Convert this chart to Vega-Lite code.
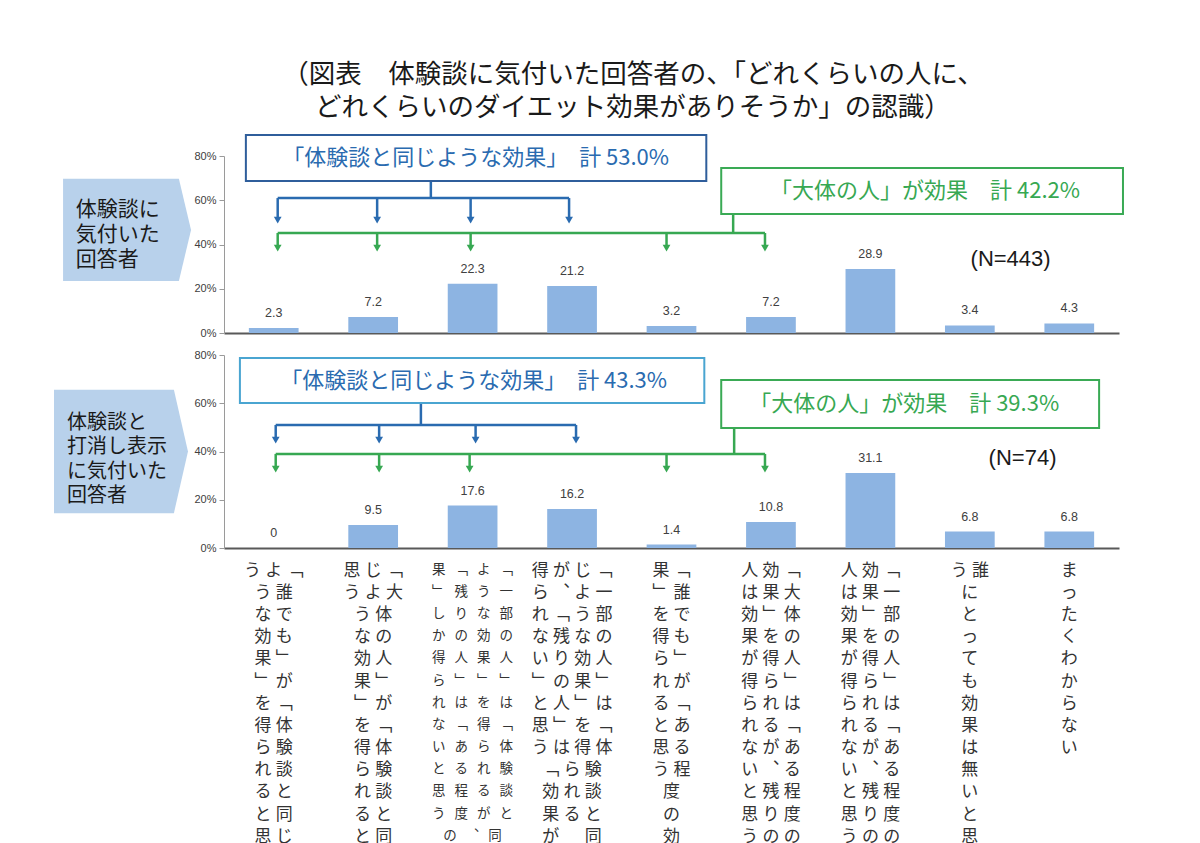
{
  "$schema": "https://vega.github.io/schema/vega-lite/v6.json",
  "padding": {"left": 53, "top": 62, "right": 5, "bottom": 5},
  "title": {
    "text": ["（図表　体験談に気付いた回答者の、「どれくらいの人に、", "どれくらいのダイエット効果がありそうか」の認識）"],
    "font": "Noto Sans CJK JP",
    "fontSize": 26.5,
    "fontWeight": "normal",
    "color": "#1a1a1a",
    "lineHeight": 33,
    "anchor": "middle",
    "dx": 44,
    "offset": 12
  },
  "datasets": {
    "labels": [
      {"cat": 1, "label": "う\u2005よ\u2005﹁\n\u3000\u2005う\u2005誰\n\u3000\u2005な\u2005で\n\u3000\u2005効\u2005も\n\u3000\u2005果\u2005﹂\n\u3000\u2005﹂\u2005が\n\u3000\u2005を\u2005﹁\n\u3000\u2005得\u2005体\n\u3000\u2005ら\u2005験\n\u3000\u2005れ\u2005談\n\u3000\u2005る\u2005と\n\u3000\u2005と\u2005同\n\u3000\u2005思\u2005じ"},
      {"cat": 2, "label": "思\u2005じ\u2005﹁\nう\u2005よ\u2005大\n\u3000\u2005う\u2005体\n\u3000\u2005な\u2005の\n\u3000\u2005効\u2005人\n\u3000\u2005果\u2005﹂\n\u3000\u2005﹂\u2005が\n\u3000\u2005を\u2005﹁\n\u3000\u2005得\u2005体\n\u3000\u2005ら\u2005験\n\u3000\u2005れ\u2005談\n\u3000\u2005る\u2005と\n\u3000\u2005と\u2005同"},
      {"cat": 3, "label": "果\u2004\u2004﹁\u2004\u2004よ\u2004\u2004﹁\n﹂\u2004\u2004残\u2004\u2004う\u2004\u2004一\nし\u2004\u2004り\u2004\u2004な\u2004\u2004部\nか\u2004\u2004の\u2004\u2004効\u2004\u2004の\n得\u2004\u2004人\u2004\u2004果\u2004\u2004人\nら\u2004\u2004﹂\u2004\u2004﹂\u2004\u2004﹂\nれ\u2004\u2004は\u2004\u2004を\u2004\u2004は\nな\u2004\u2004﹁\u2004\u2004得\u2004\u2004﹁\nい\u2004\u2004あ\u2004\u2004ら\u2004\u2004体\nと\u2004\u2004る\u2004\u2004れ\u2004\u2004験\n思\u2004\u2004程\u2004\u2004る\u2004\u2004談\nう\u2004\u2004度\u2004\u2004が\u2004\u2004と\n\u3000\u2004\u2004の\u2004\u2004︑\u2004\u2004同\n\u3000\u2004\u2004効\u2004\u2004\u3000\u2004\u2004じ"},
      {"cat": 4, "label": "得\u2005が\u2005じ\u2005﹁\nら\u2005︑\u2005よ\u2005一\nれ\u2005﹁\u2005う\u2005部\nな\u2005残\u2005な\u2005の\nい\u2005り\u2005効\u2005人\n﹂\u2005の\u2005果\u2005﹂\nと\u2005人\u2005﹂\u2005は\n思\u2005﹂\u2005を\u2005﹁\nう\u2005は\u2005得\u2005体\n\u3000\u2005﹁\u2005ら\u2005験\n\u3000\u2005効\u2005れ\u2005談\n\u3000\u2005果\u2005る\u2005と\n\u3000\u2005が\u2005\u3000\u2005同"},
      {"cat": 5, "label": "果\u2005﹁\n﹂\u2005誰\nを\u2005で\n得\u2005も\nら\u2005﹂\nれ\u2005が\nる\u2005﹁\nと\u2005あ\n思\u2005る\nう\u2005程\n\u3000\u2005度\n\u3000\u2005の\n\u3000\u2005効"},
      {"cat": 6, "label": "人\u2005効\u2005﹁\nは\u2005果\u2005大\n効\u2005﹂\u2005体\n果\u2005を\u2005の\nが\u2005得\u2005人\n得\u2005ら\u2005﹂\nら\u2005れ\u2005は\nれ\u2005る\u2005﹁\nな\u2005が\u2005あ\nい\u2005︑\u2005る\nと\u2005残\u2005程\n思\u2005り\u2005度\nう\u2005の\u2005の"},
      {"cat": 7, "label": "人\u2005効\u2005﹁\nは\u2005果\u2005一\n効\u2005﹂\u2005部\n果\u2005を\u2005の\nが\u2005得\u2005人\n得\u2005ら\u2005﹂\nら\u2005れ\u2005は\nれ\u2005る\u2005﹁\nな\u2005が\u2005あ\nい\u2005︑\u2005る\nと\u2005残\u2005程\n思\u2005り\u2005度\nう\u2005の\u2005の"},
      {"cat": 8, "label": "う\u2005誰\n\u3000\u2005に\n\u3000\u2005と\n\u3000\u2005っ\n\u3000\u2005て\n\u3000\u2005も\n\u3000\u2005効\n\u3000\u2005果\n\u3000\u2005は\n\u3000\u2005無\n\u3000\u2005い\n\u3000\u2005と\n\u3000\u2005思"},
      {"cat": 9, "label": "ま\nっ\nた\nく\nわ\nか\nら\nな\nい"}
    ],
    "bars": [
      {"panel": "top", "cat": 1, "value": 2.3},
      {"panel": "top", "cat": 2, "value": 7.2},
      {"panel": "top", "cat": 3, "value": 22.3},
      {"panel": "top", "cat": 4, "value": 21.2},
      {"panel": "top", "cat": 5, "value": 3.2},
      {"panel": "top", "cat": 6, "value": 7.2},
      {"panel": "top", "cat": 7, "value": 28.9},
      {"panel": "top", "cat": 8, "value": 3.4},
      {"panel": "top", "cat": 9, "value": 4.3},
      {"panel": "bottom", "cat": 1, "value": 0},
      {"panel": "bottom", "cat": 2, "value": 9.5},
      {"panel": "bottom", "cat": 3, "value": 17.6},
      {"panel": "bottom", "cat": 4, "value": 16.2},
      {"panel": "bottom", "cat": 5, "value": 1.4},
      {"panel": "bottom", "cat": 6, "value": 10.8},
      {"panel": "bottom", "cat": 7, "value": 31.1},
      {"panel": "bottom", "cat": 8, "value": 6.8},
      {"panel": "bottom", "cat": 9, "value": 6.8}
    ],
    "boxes": [
      {"panel": "top", "grp": "same", "x": 0.22, "x2": 4.85, "y": 89.5, "y2": 68.7, "tx": 2.53, "ty": 79.0, "text": "「体験談と同じような効果」　計 53.0%"},
      {"panel": "top", "grp": "most", "x": 5.0, "x2": 9.04, "y": 74.6, "y2": 53.8, "tx": 7.05, "ty": 64.2, "text": "「大体の人」が効果　計 42.2%"},
      {"panel": "bottom", "grp": "same", "x": 0.16, "x2": 4.83, "y": 78.8, "y2": 60.1, "tx": 2.51, "ty": 69.2, "text": "「体験談と同じような効果」　計 43.3%"},
      {"panel": "bottom", "grp": "most", "x": 5.0, "x2": 8.8, "y": 69.6, "y2": 49.7, "tx": 6.84, "ty": 59.7, "text": "「大体の人」が効果　計 39.3%"}
    ],
    "segs": [
      {"panel": "top", "grp": "same", "kind": "stem", "x": 2.08, "y": 68.7, "x2": 2.08, "y2": 61.0},
      {"panel": "top", "grp": "same", "kind": "bar", "x": 0.54, "y": 61.0, "x2": 3.47, "y2": 61.0},
      {"panel": "top", "grp": "same", "kind": "arrow", "x": 0.54, "y": 61.0, "x2": 0.54, "y2": 51.0},
      {"panel": "top", "grp": "same", "kind": "arrow", "x": 1.54, "y": 61.0, "x2": 1.54, "y2": 51.0},
      {"panel": "top", "grp": "same", "kind": "arrow", "x": 2.48, "y": 61.0, "x2": 2.48, "y2": 51.0},
      {"panel": "top", "grp": "same", "kind": "arrow", "x": 3.47, "y": 61.0, "x2": 3.47, "y2": 51.0},
      {"panel": "top", "grp": "most", "kind": "stem", "x": 5.12, "y": 53.8, "x2": 5.12, "y2": 45.2},
      {"panel": "top", "grp": "most", "kind": "bar", "x": 0.54, "y": 45.2, "x2": 5.44, "y2": 45.2},
      {"panel": "top", "grp": "most", "kind": "arrow", "x": 0.54, "y": 45.2, "x2": 0.54, "y2": 38.4},
      {"panel": "top", "grp": "most", "kind": "arrow", "x": 1.54, "y": 45.2, "x2": 1.54, "y2": 38.4},
      {"panel": "top", "grp": "most", "kind": "arrow", "x": 2.48, "y": 45.2, "x2": 2.48, "y2": 38.4},
      {"panel": "top", "grp": "most", "kind": "arrow", "x": 4.45, "y": 45.2, "x2": 4.45, "y2": 38.4},
      {"panel": "top", "grp": "most", "kind": "arrow", "x": 5.44, "y": 45.2, "x2": 5.44, "y2": 38.4},
      {"panel": "bottom", "grp": "same", "kind": "stem", "x": 1.98, "y": 60.1, "x2": 1.98, "y2": 51.0},
      {"panel": "bottom", "grp": "same", "kind": "bar", "x": 0.52, "y": 51.0, "x2": 3.54, "y2": 51.0},
      {"panel": "bottom", "grp": "same", "kind": "arrow", "x": 0.52, "y": 51.0, "x2": 0.52, "y2": 44.7},
      {"panel": "bottom", "grp": "same", "kind": "arrow", "x": 1.56, "y": 51.0, "x2": 1.56, "y2": 44.7},
      {"panel": "bottom", "grp": "same", "kind": "arrow", "x": 2.53, "y": 51.0, "x2": 2.53, "y2": 44.7},
      {"panel": "bottom", "grp": "same", "kind": "arrow", "x": 3.54, "y": 51.0, "x2": 3.54, "y2": 44.7},
      {"panel": "bottom", "grp": "most", "kind": "stem", "x": 5.13, "y": 49.7, "x2": 5.13, "y2": 39.0},
      {"panel": "bottom", "grp": "most", "kind": "bar", "x": 0.52, "y": 39.0, "x2": 5.44, "y2": 39.0},
      {"panel": "bottom", "grp": "most", "kind": "arrow", "x": 0.52, "y": 39.0, "x2": 0.52, "y2": 32.7},
      {"panel": "bottom", "grp": "most", "kind": "arrow", "x": 1.56, "y": 39.0, "x2": 1.56, "y2": 32.7},
      {"panel": "bottom", "grp": "most", "kind": "arrow", "x": 2.47, "y": 39.0, "x2": 2.47, "y2": 32.7},
      {"panel": "bottom", "grp": "most", "kind": "arrow", "x": 4.45, "y": 39.0, "x2": 4.45, "y2": 32.7},
      {"panel": "bottom", "grp": "most", "kind": "arrow", "x": 5.44, "y": 39.0, "x2": 5.44, "y2": 32.7}
    ],
    "notes": [
      {"panel": "top", "x": 7.91, "y": 33.4, "text": "(N=443)"},
      {"panel": "bottom", "x": 8.03, "y": 37.3, "text": "(N=74)"}
    ],
    "tags": [
      {"panel": "top", "x": -0.975, "y": 46.6, "tx": -1.49, "text": "体験談に\n気付いた\n回答者"},
      {"panel": "bottom", "x": -1.036, "y": 40.0, "tx": -1.579, "text": "体験談と\n打消し表示\nに気付いた\n回答者"}
    ]
  },
  "vconcat": [
    {
      "width": 895,
      "height": 177,
      "resolve": {"scale": {"x": "independent"}},
      "layer": [
        {
          "data": {"name": "bars"},
          "transform": [
            {"filter": "datum.panel == 'top'"},
            {"lookup": "cat", "from": {"data": {"name": "labels"}, "key": "cat", "fields": ["label"]}}
          ],
          "encoding": {
            "x": {
              "field": "label", "type": "nominal", "sort": null,
              "scale": {"paddingInner": 0.5, "paddingOuter": 0.25},
              "axis": {"title": null, "labels": false, "ticks": false, "domainColor": "#595959", "domainWidth": 2}
            },
            "y": {
              "field": "value", "type": "quantitative",
              "scale": {"domain": [0, 80], "nice": false},
              "axis": {"title": null, "values": [0, 20, 40, 60, 80], "labelExpr": "datum.value + '%'"}
            }
          },
          "layer": [
            {"mark": {"type": "bar", "color": "#8DB4E2"}},
            {
              "mark": {"type": "text", "baseline": "bottom", "dy": -8, "font": "Liberation Sans", "fontSize": 12.5, "color": "#404040"},
              "encoding": {"text": {"field": "value", "type": "quantitative", "format": ".1~f"}}
            }
          ]
        },
        {
          "layer": [
            {
              "data": {"name": "tags"},
              "transform": [{"filter": "datum.panel == 'top'"}],
              "mark": {"type": "point", "shape": "M-1,-0.8L0.81,-0.8L1,0L0.81,0.8L-1,0.8Z", "size": 16384, "filled": true, "color": "#B8D1EB", "opacity": 1},
              "encoding": {
                "x": {"field": "x", "type": "quantitative", "scale": {"domain": [0, 9], "nice": false, "zero": false}, "axis": null},
                "y": {"field": "y", "type": "quantitative", "scale": {"domain": [0, 80], "nice": false}, "axis": {"title": null, "values": [0, 20, 40, 60, 80], "labelExpr": "datum.value + '%'"}}
              }
            },
            {
              "data": {"name": "tags"},
              "transform": [{"filter": "datum.panel == 'top'"}],
              "mark": {"type": "text", "align": "left", "baseline": "middle", "lineBreak": "\n", "font": "Noto Sans CJK JP", "fontSize": 21, "lineHeight": 25, "dy": -20, "color": "#1a1a1a"},
              "encoding": {
                "x": {"field": "tx", "type": "quantitative", "scale": {"domain": [0, 9], "nice": false, "zero": false}, "axis": null},
                "y": {"field": "y", "type": "quantitative", "scale": {"domain": [0, 80], "nice": false}, "axis": {"title": null, "values": [0, 20, 40, 60, 80], "labelExpr": "datum.value + '%'"}},
                "text": {"field": "text"}
              }
            },
            {
              "data": {"name": "segs"},
              "transform": [{"filter": "datum.panel == 'top'"}],
              "mark": {"type": "rule", "strokeWidth": 2.5},
              "encoding": {
                "x": {"field": "x", "type": "quantitative", "scale": {"domain": [0, 9], "nice": false, "zero": false}, "axis": null},
                "x2": {"field": "x2"},
                "y": {"field": "y", "type": "quantitative", "scale": {"domain": [0, 80], "nice": false}, "axis": {"title": null, "values": [0, 20, 40, 60, 80], "labelExpr": "datum.value + '%'"}},
                "y2": {"field": "y2"},
                "color": {"field": "grp", "type": "nominal", "scale": {"domain": ["same", "most"], "range": ["#2A6BB0", "#37A852"]}, "legend": null}
              }
            },
            {
              "data": {"name": "segs"},
              "transform": [{"filter": "datum.panel == 'top' && datum.kind == 'arrow'"}],
              "mark": {"type": "point", "shape": "triangle-down", "size": 60, "filled": true, "opacity": 1},
              "encoding": {
                "x": {"field": "x2", "type": "quantitative", "scale": {"domain": [0, 9], "nice": false, "zero": false}, "axis": null},
                "y": {"field": "y2", "type": "quantitative", "scale": {"domain": [0, 80], "nice": false}, "axis": {"title": null, "values": [0, 20, 40, 60, 80], "labelExpr": "datum.value + '%'"}},
                "color": {"field": "grp", "type": "nominal", "scale": {"domain": ["same", "most"], "range": ["#2A6BB0", "#37A852"]}, "legend": null}
              }
            },
            {
              "data": {"name": "boxes"},
              "transform": [{"filter": "datum.panel == 'top'"}],
              "mark": {"type": "rect", "fill": "#ffffff", "strokeWidth": 2},
              "encoding": {
                "x": {"field": "x", "type": "quantitative", "scale": {"domain": [0, 9], "nice": false, "zero": false}, "axis": null},
                "x2": {"field": "x2"},
                "y": {"field": "y", "type": "quantitative", "scale": {"domain": [0, 80], "nice": false}, "axis": {"title": null, "values": [0, 20, 40, 60, 80], "labelExpr": "datum.value + '%'"}},
                "y2": {"field": "y2"},
                "stroke": {"field": "grp", "type": "nominal", "scale": {"domain": ["same", "most"], "range": ["#2F5E9B", "#3AAA55"]}, "legend": null}
              }
            },
            {
              "data": {"name": "boxes"},
              "transform": [{"filter": "datum.panel == 'top'"}],
              "mark": {"type": "text", "font": "Noto Sans CJK JP", "fontSize": 22, "baseline": "middle"},
              "encoding": {
                "x": {"field": "tx", "type": "quantitative", "scale": {"domain": [0, 9], "nice": false, "zero": false}, "axis": null},
                "y": {"field": "ty", "type": "quantitative", "scale": {"domain": [0, 80], "nice": false}, "axis": {"title": null, "values": [0, 20, 40, 60, 80], "labelExpr": "datum.value + '%'"}},
                "text": {"field": "text"},
                "color": {"field": "grp", "type": "nominal", "scale": {"domain": ["same", "most"], "range": ["#2A6BB0", "#37A852"]}, "legend": null}
              }
            },
            {
              "data": {"name": "notes"},
              "transform": [{"filter": "datum.panel == 'top'"}],
              "mark": {"type": "text", "font": "Liberation Sans", "fontSize": 22, "baseline": "middle", "color": "#1a1a1a"},
              "encoding": {
                "x": {"field": "x", "type": "quantitative", "scale": {"domain": [0, 9], "nice": false, "zero": false}, "axis": null},
                "y": {"field": "y", "type": "quantitative", "scale": {"domain": [0, 80], "nice": false}, "axis": {"title": null, "values": [0, 20, 40, 60, 80], "labelExpr": "datum.value + '%'"}},
                "text": {"field": "text"}
              }
            }
          ]
        }
      ]
    },
    {
      "width": 895,
      "height": 193,
      "resolve": {"scale": {"x": "independent"}},
      "layer": [
        {
          "data": {"name": "bars"},
          "transform": [
            {"filter": "datum.panel == 'bottom'"},
            {"lookup": "cat", "from": {"data": {"name": "labels"}, "key": "cat", "fields": ["label"]}}
          ],
          "encoding": {
            "x": {
              "field": "label", "type": "nominal", "sort": null,
              "scale": {"paddingInner": 0.5, "paddingOuter": 0.25},
              "axis": {
                "title": null, "ticks": false, "domainColor": "#595959", "domainWidth": 2,
                "labelAngle": 0, "labelAlign": "center", "labelBaseline": "top", "labelPadding": 14,
                "labelExpr": "split(datum.value, '\\n')",
                "labelFont": "Noto Sans CJK JP",
                "labelFontSize": {"condition": {"test": "indexof(datum.value, '程') >= 0 && indexof(datum.value, '験') >= 0", "value": 13.5}, "value": 17},
                "labelLineHeight": 22.2,
                "labelColor": "#333333", "labelOverlap": false, "labelLimit": 0,
                "encoding": {"labels": {"update": {"lineHeight": {"signal": "indexof(datum.value, '程') >= 0 && indexof(datum.value, '験') >= 0 ? 20.4 : 22.2"}}}}
              }
            },
            "y": {
              "field": "value", "type": "quantitative",
              "scale": {"domain": [0, 80], "nice": false},
              "axis": {"title": null, "values": [0, 20, 40, 60, 80], "labelExpr": "datum.value + '%'"}
            }
          },
          "layer": [
            {"mark": {"type": "bar", "color": "#8DB4E2"}},
            {
              "mark": {"type": "text", "baseline": "bottom", "dy": -8, "font": "Liberation Sans", "fontSize": 12.5, "color": "#404040"},
              "encoding": {"text": {"field": "value", "type": "quantitative", "format": ".1~f"}}
            }
          ]
        },
        {
          "layer": [
            {
              "data": {"name": "tags"},
              "transform": [{"filter": "datum.panel == 'bottom'"}],
              "mark": {"type": "point", "shape": "M-1,-0.92L0.79,-0.92L1,0L0.79,0.92L-1,0.92Z", "size": 17956, "filled": true, "color": "#B8D1EB", "opacity": 1},
              "encoding": {
                "x": {"field": "x", "type": "quantitative", "scale": {"domain": [0, 9], "nice": false, "zero": false}, "axis": null},
                "y": {"field": "y", "type": "quantitative", "scale": {"domain": [0, 80], "nice": false}, "axis": {"title": null, "values": [0, 20, 40, 60, 80], "labelExpr": "datum.value + '%'"}}
              }
            },
            {
              "data": {"name": "tags"},
              "transform": [{"filter": "datum.panel == 'bottom'"}],
              "mark": {"type": "text", "align": "left", "baseline": "middle", "lineBreak": "\n", "font": "Noto Sans CJK JP", "fontSize": 20, "lineHeight": 24.5, "dy": -29, "color": "#1a1a1a"},
              "encoding": {
                "x": {"field": "tx", "type": "quantitative", "scale": {"domain": [0, 9], "nice": false, "zero": false}, "axis": null},
                "y": {"field": "y", "type": "quantitative", "scale": {"domain": [0, 80], "nice": false}, "axis": {"title": null, "values": [0, 20, 40, 60, 80], "labelExpr": "datum.value + '%'"}},
                "text": {"field": "text"}
              }
            },
            {
              "data": {"name": "segs"},
              "transform": [{"filter": "datum.panel == 'bottom'"}],
              "mark": {"type": "rule", "strokeWidth": 2.5},
              "encoding": {
                "x": {"field": "x", "type": "quantitative", "scale": {"domain": [0, 9], "nice": false, "zero": false}, "axis": null},
                "x2": {"field": "x2"},
                "y": {"field": "y", "type": "quantitative", "scale": {"domain": [0, 80], "nice": false}, "axis": {"title": null, "values": [0, 20, 40, 60, 80], "labelExpr": "datum.value + '%'"}},
                "y2": {"field": "y2"},
                "color": {"field": "grp", "type": "nominal", "scale": {"domain": ["same", "most"], "range": ["#2A6BB0", "#37A852"]}, "legend": null}
              }
            },
            {
              "data": {"name": "segs"},
              "transform": [{"filter": "datum.panel == 'bottom' && datum.kind == 'arrow'"}],
              "mark": {"type": "point", "shape": "triangle-down", "size": 60, "filled": true, "opacity": 1},
              "encoding": {
                "x": {"field": "x2", "type": "quantitative", "scale": {"domain": [0, 9], "nice": false, "zero": false}, "axis": null},
                "y": {"field": "y2", "type": "quantitative", "scale": {"domain": [0, 80], "nice": false}, "axis": {"title": null, "values": [0, 20, 40, 60, 80], "labelExpr": "datum.value + '%'"}},
                "color": {"field": "grp", "type": "nominal", "scale": {"domain": ["same", "most"], "range": ["#2A6BB0", "#37A852"]}, "legend": null}
              }
            },
            {
              "data": {"name": "boxes"},
              "transform": [{"filter": "datum.panel == 'bottom'"}],
              "mark": {"type": "rect", "fill": "#ffffff", "strokeWidth": 2},
              "encoding": {
                "x": {"field": "x", "type": "quantitative", "scale": {"domain": [0, 9], "nice": false, "zero": false}, "axis": null},
                "x2": {"field": "x2"},
                "y": {"field": "y", "type": "quantitative", "scale": {"domain": [0, 80], "nice": false}, "axis": {"title": null, "values": [0, 20, 40, 60, 80], "labelExpr": "datum.value + '%'"}},
                "y2": {"field": "y2"},
                "stroke": {"field": "grp", "type": "nominal", "scale": {"domain": ["same", "most"], "range": ["#4AA5D1", "#3AAA55"]}, "legend": null}
              }
            },
            {
              "data": {"name": "boxes"},
              "transform": [{"filter": "datum.panel == 'bottom'"}],
              "mark": {"type": "text", "font": "Noto Sans CJK JP", "fontSize": 22, "baseline": "middle"},
              "encoding": {
                "x": {"field": "tx", "type": "quantitative", "scale": {"domain": [0, 9], "nice": false, "zero": false}, "axis": null},
                "y": {"field": "ty", "type": "quantitative", "scale": {"domain": [0, 80], "nice": false}, "axis": {"title": null, "values": [0, 20, 40, 60, 80], "labelExpr": "datum.value + '%'"}},
                "text": {"field": "text"},
                "color": {"field": "grp", "type": "nominal", "scale": {"domain": ["same", "most"], "range": ["#2A6BB0", "#37A852"]}, "legend": null}
              }
            },
            {
              "data": {"name": "notes"},
              "transform": [{"filter": "datum.panel == 'bottom'"}],
              "mark": {"type": "text", "font": "Liberation Sans", "fontSize": 22, "baseline": "middle", "color": "#1a1a1a"},
              "encoding": {
                "x": {"field": "x", "type": "quantitative", "scale": {"domain": [0, 9], "nice": false, "zero": false}, "axis": null},
                "y": {"field": "y", "type": "quantitative", "scale": {"domain": [0, 80], "nice": false}, "axis": {"title": null, "values": [0, 20, 40, 60, 80], "labelExpr": "datum.value + '%'"}},
                "text": {"field": "text"}
              }
            }
          ]
        }
      ]
    }
  ],
  "spacing": 11,
  "resolve": {"scale": {"stroke": "independent"}},
  "config": {
    "view": {"stroke": null},
    "font": "Noto Sans CJK JP",
    "axisY": {"grid": false, "labelFont": "Liberation Sans", "labelFontSize": 11, "labelColor": "#404040", "domainColor": "#9a9a9a", "tickColor": "#9a9a9a", "tickSize": 5, "labelPadding": 3}
  }
}
